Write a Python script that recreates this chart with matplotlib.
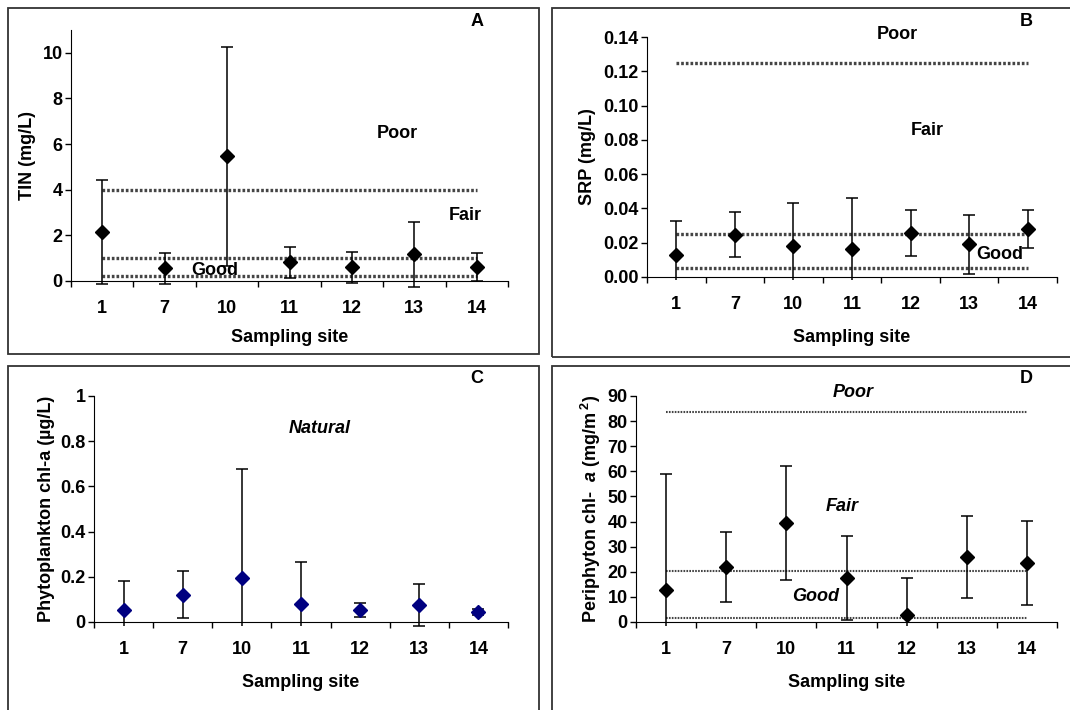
import numpy as np
import matplotlib
matplotlib.use("Agg")
import matplotlib.pyplot as plt
from matplotlib.patches import Rectangle
from matplotlib.transforms import Bbox, TransformedBbox

plt.rcParams['font.family'] = ['Liberation Sans', 'DejaVu Sans']
plt.rcParams['font.weight'] = 'bold'
plt.rcParams['mathtext.fontset'] = 'custom'
plt.rcParams['mathtext.rm'] = 'Liberation Sans:bold'
plt.rcParams['mathtext.it'] = 'Liberation Sans:italic:bold'

################################################################################
# Data
################################################################################
sites = ['1', '7', '10', '11', '12', '13', '14']

tin_mean = [2.16, 0.55, 5.47, 0.82, 0.60, 1.17, 0.60]
tin_sd = [2.27, 0.66, 4.80, 0.68, 0.67, 1.43, 0.62]
tin_limits = [4.0, 1.0, 0.2]

srp_mean = [0.0126, 0.0246, 0.0182, 0.0163, 0.0256, 0.0192, 0.0279]
srp_sd = [0.0198, 0.0132, 0.0248, 0.0297, 0.0132, 0.0172, 0.0110]
srp_limits = [0.125, 0.025, 0.005]

phyto_mean = [0.052, 0.121, 0.195, 0.081, 0.052, 0.077, 0.044]
phyto_sd = [0.131, 0.105, 0.482, 0.183, 0.031, 0.093, 0.013]

peri_mean = [12.9, 21.9, 39.4, 17.5, 2.9, 25.9, 23.6]
peri_sd = [46.2, 14.1, 22.6, 16.8, 14.6, 16.4, 16.8]
peri_limits = [83.6, 20.5, 1.6]

FS = 13

################################################################################
# Helpers
################################################################################
W, H = 1070, 710
fig = plt.figure(figsize=(W / 100, H / 100), dpi=100)

def frame(x0, y0, x1, y1):
	fig.patches.append(Rectangle((x0 / W, 1 - y1 / H), (x1 - x0) / W, (y1 - y0) / H,
		transform=fig.transFigure, fill=False, lw=1.3, ec='#333333'))

def make_axes(l, r, t, b, xpad):
	ax = fig.add_axes([l / W, 1 - b / H, (r - l) / W, (b - t) / H])
	ax.spines['top'].set_visible(False)
	ax.spines['right'].set_visible(False)
	ax.set_xlim(-0.5, len(sites) - 0.5)
	ax.set_xticks(range(len(sites)))
	ax.set_xticklabels(sites)
	ax.set_xticks(np.arange(-0.5, len(sites)), minor=True)
	ax.tick_params(axis='x', which='major', length=0, pad=14, labelsize=FS)
	ax.tick_params(axis='x', which='minor', length=4, width=1)
	ax.tick_params(axis='y', length=4, width=1, pad=2, labelsize=FS)
	ax.set_xlabel('Sampling site', fontsize=FS, fontweight='bold', labelpad=xpad)
	return ax

def draw_points(ax, mean, sd, color, ext_px):
	x = np.arange(len(sites))
	eb = ax.errorbar(x, mean, yerr=sd, fmt='D', color=color, ms=7, mec=color,
		ecolor='black', elinewidth=1.1, capsize=4, capthick=1.1, zorder=3)
	hpx = ax.bbox.height
	clip = TransformedBbox(Bbox([[-0.1, -ext_px / hpx], [1.1, 1.1]]), ax.transAxes)
	for art in eb.lines[1] + eb.lines[2] + (eb.lines[0],):
		art.set_clip_box(clip)

def draw_limits(ax, limits, lw):
	for v in limits:
		ax.plot([0, len(sites) - 1], [v, v], color='#444444', lw=lw,
			linestyle=(0, (0.8, 0.6)), zorder=2)

################################################################################
# Panel frames
################################################################################
frame(8, 8, 539, 354)
frame(552, 8, 1080, 357)
frame(8, 366, 539, 720)
frame(552, 366, 1080, 720)

txt = dict(fontsize=FS, fontweight='bold', ha='center', va='center')
itxt = dict(fontsize=FS, fontweight='bold', style='italic', ha='center', va='center')

# A
ax = make_axes(71, 508, 30, 281, 8)
ax.set_ylim(0, 11)
ax.set_yticks([0, 2, 4, 6, 8, 10])
ax.set_ylabel('TIN (mg/L)', fontsize=FS, fontweight='bold', labelpad=5)
draw_limits(ax, tin_limits, 2.4)
draw_points(ax, tin_mean, tin_sd, 'black', 6)
ax.text(4.72, 6.47, 'Poor', **txt)
ax.text(5.81, 2.85, 'Fair', **txt)
ax.text(1.81, 0.45, 'Good', **txt)
fig.text(477 / W, 1 - 21 / H, 'A', **txt)

# B
ax = make_axes(647, 1057, 37, 277, 11)
ax.set_ylim(0, 0.14)
ax.set_yticks(np.arange(0, 0.141, 0.02))
ax.yaxis.set_major_formatter(matplotlib.ticker.FormatStrFormatter('%.2f'))
ax.set_ylabel('SRP (mg/L)', fontsize=FS, fontweight='bold', labelpad=5)
draw_limits(ax, srp_limits, 2.4)
draw_points(ax, srp_mean, srp_sd, 'black', 3)
ax.text(3.77, 0.1414, 'Poor', clip_on=False, **txt)
ax.text(4.28, 0.0857, 'Fair', **txt)
ax.text(5.52, 0.0134, 'Good', **txt)
fig.text(1026 / W, 1 - 21 / H, 'B', **txt)

# C
ax = make_axes(94, 508, 396, 622, 11)
ax.set_ylim(0, 1)
ax.set_yticks([0, 0.2, 0.4, 0.6, 0.8, 1])
ax.set_yticklabels(['0', '0.2', '0.4', '0.6', '0.8', '1'])
ax.set_ylabel('Phytoplankton chl-a (µg/L)', fontsize=FS, fontweight='bold', labelpad=4)
draw_points(ax, phyto_mean, phyto_sd, '#000080', 4)
ax.text(3.32, 0.858, 'Natural', **itxt)
fig.text(477 / W, 1 - 379 / H, 'C', **txt)

# D
ax = make_axes(636, 1057, 396, 622, 11)
ax.set_ylim(0, 90)
ax.set_yticks(range(0, 91, 10))
ax.set_ylabel(r'Periphyton chl-  $\it{a}$ (mg/m$^{\ 2}$)', fontsize=FS,
	fontweight='bold', labelpad=3)
draw_limits(ax, peri_limits, 1.5)
draw_points(ax, peri_mean, peri_sd, 'black', 4)
ax.text(3.11, 91.2, 'Poor', clip_on=False, **itxt)
ax.text(2.93, 45.8, 'Fair', **itxt)
ax.text(2.48, 10.0, 'Good', **itxt)
fig.text(1026 / W, 1 - 379 / H, 'D', **txt)

fig.savefig('out.png', dpi=100)
